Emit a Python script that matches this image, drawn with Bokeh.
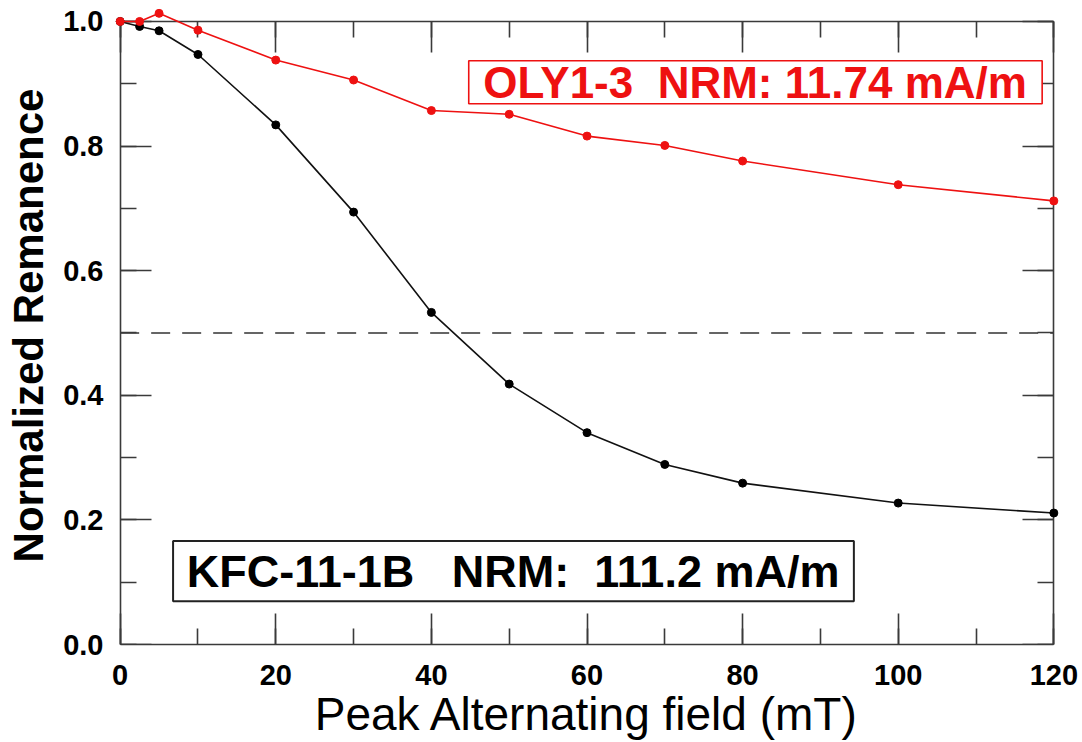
from bokeh.plotting import figure
from bokeh.models import (Range1d, SingleIntervalTicker, PrintfTickFormatter, LinearAxis,
                          BoxAnnotation, Label, CustomJSTickFormatter)
from bokeh.embed import file_html
from bokeh.resources import INLINE

# Data
field_mT = [0, 2.5, 5, 10, 20, 30, 40, 50, 60, 70, 80, 100, 120]
oly_rem = [1.0, 1.0, 1.013, 0.986, 0.938, 0.906, 0.857, 0.851, 0.816, 0.801, 0.776, 0.738, 0.712]
kfc_rem = [1.0, 0.992, 0.985, 0.947, 0.834, 0.694, 0.533, 0.418, 0.340, 0.289, 0.259, 0.227, 0.211]
half_level = 0.5
x_limits = [0, 120]
y_limits = [0.0, 1.0]
oly_label = "OLY1-3\u00a0\u00a0NRM: 11.74 mA/m"
kfc_label = "KFC-11-1B\u00a0\u00a0\u00a0NRM:\u00a0\u00a0111.2 mA/m"
x_title = "Peak Alternating field (mT)"
y_title = "Normalized Remanence"

FONT = "Liberation Sans"
AX = "#3a3a3a"
RED = "#ee1111"

# small padding so that end markers are not clipped by the frame
x_pad = 0.6
y_pad_top = 0.024

p = figure(width=1082, height=742, output_backend="svg", toolbar_location=None,
           x_range=Range1d(x_limits[0] - x_pad, x_limits[1] + x_pad),
           y_range=Range1d(y_limits[0], y_limits[1] + y_pad_top),
           min_border_left=115, min_border_right=24, min_border_top=6, min_border_bottom=98,
           x_axis_label=x_title, y_axis_label=y_title)
p.grid.visible = False
p.outline_line_color = None
p.background_fill_color = "white"
p.border_fill_color = "white"

def style_lines(ax):
    ax.axis_line_color = AX
    ax.axis_line_width = 1.6
    ax.major_tick_line_color = AX
    ax.minor_tick_line_color = AX
    ax.major_tick_line_width = 1.6
    ax.minor_tick_line_width = 1.6
    ax.major_tick_in = 31
    ax.major_tick_out = 0
    ax.minor_tick_in = 16
    ax.minor_tick_out = 0

def no_labels(ax):
    ax.formatter = CustomJSTickFormatter(code="return ''")
    ax.major_label_text_font_size = "1px"
    ax.major_label_standoff = 0

def label_style(ax):
    ax.major_label_text_font = FONT
    ax.major_label_text_font_style = "bold"
    ax.major_label_text_font_size = "29px"
    ax.major_label_text_color = "black"

# bottom axis (sits on the frame edge at y = 0)
xa = p.xaxis[0]
xa.ticker = SingleIntervalTicker(interval=20, num_minor_ticks=2)
xa.bounds = (x_limits[0], x_limits[1])
style_lines(xa)
label_style(xa)
xa.major_label_standoff = 20
xa.axis_label_text_font = FONT
xa.axis_label_text_font_style = "normal"
xa.axis_label_text_font_size = "46px"
xa.axis_label_text_color = "black"
xa.axis_label_standoff = 0

# left axis: labels and title only (frame edge is a little left of x = 0)
ya = p.yaxis[0]
ya.ticker = SingleIntervalTicker(interval=0.2, num_minor_ticks=2)
ya.formatter = PrintfTickFormatter(format="%.1f")
ya.axis_line_color = None
ya.major_tick_line_color = None
ya.minor_tick_line_color = None
ya.major_tick_in = 0
ya.major_tick_out = 0
ya.minor_tick_in = 0
ya.minor_tick_out = 0
label_style(ya)
ya.major_label_standoff = 12
ya.axis_label_text_font = FONT
ya.axis_label_text_font_style = "bold"
ya.axis_label_text_font_size = "42px"
ya.axis_label_text_color = "black"
ya.axis_label_standoff = 8

# left axis line and ticks at x = 0
left_line = LinearAxis(ticker=SingleIntervalTicker(interval=0.2, num_minor_ticks=2),
                       fixed_location=x_limits[0], bounds=(y_limits[0], y_limits[1]))
style_lines(left_line)
no_labels(left_line)
p.add_layout(left_line, "left")

top = LinearAxis(ticker=SingleIntervalTicker(interval=20, num_minor_ticks=2),
                 fixed_location=y_limits[1], bounds=(x_limits[0], x_limits[1]))
style_lines(top)
no_labels(top)
p.add_layout(top, "above")
right = LinearAxis(ticker=SingleIntervalTicker(interval=0.2, num_minor_ticks=2),
                   fixed_location=x_limits[1], bounds=(y_limits[0], y_limits[1]))
style_lines(right)
no_labels(right)
p.add_layout(right, "right")

p.segment(x0=[x_limits[0]], x1=[x_limits[1]], y0=[half_level], y1=[half_level],
          line_color="#333333", line_width=1.6, line_dash="19 12")

r1 = p.line(field_mT, kfc_rem, line_color="#111111", line_width=1.6)
r2 = p.scatter(field_mT, kfc_rem, size=8, fill_color="black", line_color="black")
r3 = p.line(field_mT, oly_rem, line_color=RED, line_width=1.6)
r4 = p.scatter(field_mT, oly_rem, size=8, fill_color=RED, line_color=RED)
for r in (r1, r2, r3, r4):
    r.level = "overlay"

# label boxes
p.add_layout(BoxAnnotation(left=44.8, right=118.5, bottom=0.868, top=0.937,
                           fill_color="white", fill_alpha=1.0,
                           line_color=RED, line_alpha=1.0, line_width=1.6))
p.add_layout(Label(x=81.6, y=0.9025, text=oly_label, text_align="center", text_baseline="middle",
                   text_font=FONT, text_font_style="bold", text_font_size="44px", text_color=RED))
p.add_layout(BoxAnnotation(left=6.8, right=94.3, bottom=0.0695, top=0.166,
                           fill_color="white", fill_alpha=1.0,
                           line_color="#222222", line_alpha=1.0, line_width=2))
p.add_layout(Label(x=50.5, y=0.1177, text=kfc_label, text_align="center", text_baseline="middle",
                   text_font=FONT, text_font_style="bold", text_font_size="45px", text_color="black"))

open("out.html", "w").write(file_html(p, INLINE))
